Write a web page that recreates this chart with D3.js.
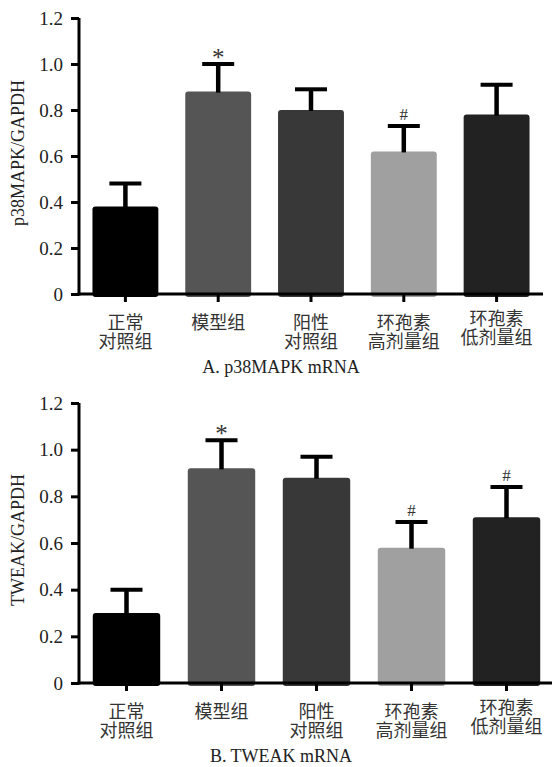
<!DOCTYPE html>
<html>
<head>
<meta charset="utf-8">
<script src="https://cdn.jsdelivr.net/npm/d3@7"></script>
<style>
  body { margin: 0; background: #fff; }
  svg { display: block; }
</style>
</head>
<body>
<script>
// groups, two-line labels
const groups = [["正常", "对照组"], ["模型组"], ["阳性", "对照组"], ["环孢素", "高剂量组"], ["环孢素", "低剂量组"]]
const barColors = ["#000000", "#555555", "#383838", "#a0a0a0", "#222222"]

const p38Mean = [0.38, 0.88, 0.80, 0.62, 0.78]
const p38Err = [0.10, 0.12, 0.09, 0.11, 0.13]
const p38Marks = ["", "*", "", "#", ""]

const tweakMean = [0.30, 0.92, 0.88, 0.58, 0.71]
const tweakErr = [0.10, 0.12, 0.09, 0.11, 0.13]
const tweakMarks = ["", "*", "", "#", "#"]

const yTicks = [0, 0.2, 0.4, 0.6, 0.8, 1.0, 1.2]

const serif = "'Liberation Serif', 'Times New Roman', serif"
const cjk = "'Liberation Serif', 'Noto Sans CJK SC', serif"

const svg = d3.select("body").append("svg")
    .attr("width", 552)
    .attr("height", 767)

function panel(opt) {
    const g = svg.append("g")
    const data = groups.map((name, i) => ({
        name: name, i: i, mean: opt.mean[i], err: opt.err[i], mark: opt.marks[i]
    }))

    const x = d3.scaleBand().domain(d3.range(groups.length)).range(opt.xr).paddingInner(0.29).paddingOuter(0.145)
    const y = d3.scaleLinear().domain([0, 1.2]).range([opt.bottom, opt.top])

    // bars
    g.selectAll("rect.bar")
        .data(data)
        .enter()
        .append("rect")
        .attr("class", "bar")
        .attr("x", d => x(d.i))
        .attr("width", x.bandwidth())
        .attr("y", d => y(d.mean))
        .attr("height", d => y(0) - y(d.mean) + 3)
        .attr("rx", 3)
        .attr("fill", d => barColors[d.i])

    // error bars
    const cx = d => x(d.i) + x.bandwidth() / 2
    g.selectAll("line.stem")
        .data(data)
        .enter()
        .append("line")
        .attr("x1", cx).attr("x2", cx)
        .attr("y1", d => y(d.mean) + 1)
        .attr("y2", d => y(d.mean + d.err))
        .attr("stroke", "#000")
        .attr("stroke-width", 4.5)
    g.selectAll("line.cap")
        .data(data)
        .enter()
        .append("line")
        .attr("x1", d => cx(d) - 16).attr("x2", d => cx(d) + 16)
        .attr("y1", d => y(d.mean + d.err))
        .attr("y2", d => y(d.mean + d.err))
        .attr("stroke", "#000")
        .attr("stroke-width", 4)

    // significance marks
    g.selectAll("text.mark")
        .data(data.filter(d => d.mark))
        .enter()
        .append("text")
        .attr("x", cx)
        .attr("y", d => y(d.mean + d.err) + (d.mark === "*" ? 2 : -6))
        .attr("text-anchor", "middle")
        .style("font-family", serif)
        .style("font-size", d => d.mark === "*" ? "25px" : "17px")
        .attr("fill", "#333")
        .text(d => d.mark)

    // y axis
    const yAxis = g.append("g")
        .attr("transform", "translate(" + opt.xr[0] + ",0)")
        .call(d3.axisLeft(y).tickValues(yTicks).tickSize(8).tickPadding(8)
            .tickFormat(d => d === 0 ? "0" : d3.format(".1f")(d)))
    yAxis.select(".domain").attr("d", "M0," + (opt.top) + "V" + (opt.bottom + 1.5)).attr("stroke-width", 3)
    yAxis.selectAll(".tick line").attr("stroke-width", 3)
    yAxis.selectAll(".tick text")
        .style("font-family", serif)
        .style("font-size", "19px")
        .attr("fill", "#222")

    // x axis
    const xAxis = g.append("g")
        .attr("transform", "translate(0," + opt.bottom + ")")
        .call(d3.axisBottom(x).tickSize(8).tickFormat(""))
    xAxis.select(".domain").attr("d", "M" + (opt.xr[0] - 1.5) + ",0H" + opt.xr[1]).attr("stroke-width", 3)
    xAxis.selectAll(".tick line").attr("stroke-width", 3)

    // category labels
    const lab = g.selectAll("text.cat")
        .data(data)
        .enter()
        .append("text")
        .attr("text-anchor", "middle")
        .style("font-family", cjk)
        .style("font-size", "18px")
        .attr("fill", "#333")
    lab.selectAll("tspan")
        .data(d => d.name.map((s, k) => ({ s: s, k: k, d: d })))
        .enter()
        .append("tspan")
        .attr("x", t => cx(t.d))
        .attr("y", t => opt.bottom + 35 + t.k * 19 - (t.d.i === 4 ? 4 : 0))
        .text(t => t.s)

    // y title
    g.append("text")
        .attr("transform", "translate(24," + ((opt.top + opt.bottom) / 2 - 3) + ") rotate(-90)")
        .attr("text-anchor", "middle")
        .style("font-family", serif)
        .style("font-size", "18px")
        .attr("fill", "#222")
        .text(opt.ylabel)

    // panel title
    g.append("text")
        .attr("x", 281)
        .attr("y", opt.bottom + 79)
        .attr("text-anchor", "middle")
        .style("font-family", serif)
        .style("font-size", "18px")
        .attr("fill", "#222")
        .text(opt.title)
}

panel({ mean: p38Mean, err: p38Err, marks: p38Marks, top: 18, bottom: 294, xr: [79, 543],
    ylabel: "p38MAPK/GAPDH", title: "A. p38MAPK mRNA" })
panel({ mean: tweakMean, err: tweakErr, marks: tweakMarks, top: 403, bottom: 683, xr: [79, 554],
    ylabel: "TWEAK/GAPDH", title: "B. TWEAK mRNA" })
</script>
</body>
</html>
